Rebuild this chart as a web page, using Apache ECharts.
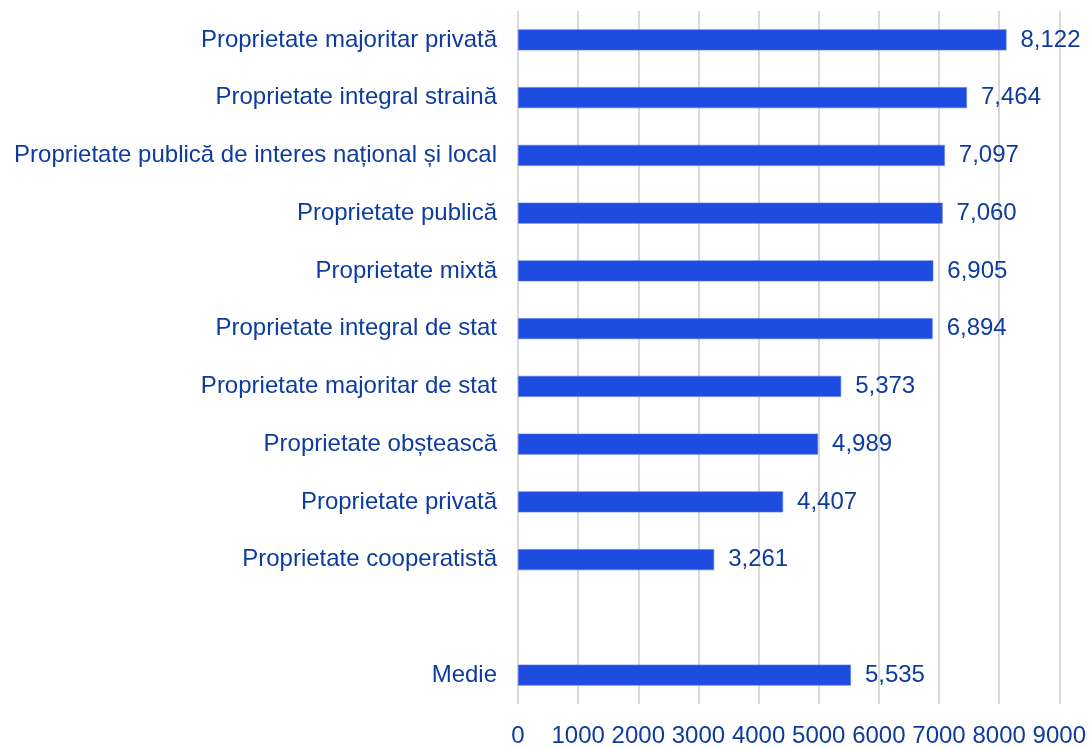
<!DOCTYPE html>
<html>
<head>
<meta charset="utf-8">
<script src="https://cdn.jsdelivr.net/npm/echarts@6/dist/echarts.min.js"></script>
<style>
  html, body { margin: 0; padding: 0; background: #ffffff; }
  #chart { width: 1089px; height: 748px; }
</style>
</head>
<body>
<div id="chart"></div>
<script>
// Ownership types (top to bottom); the blank entry leaves a gap before the average
const categories = [
  'Proprietate majoritar privată',
  'Proprietate integral straină',
  'Proprietate publică de interes național și local',
  'Proprietate publică',
  'Proprietate mixtă',
  'Proprietate integral de stat',
  'Proprietate majoritar de stat',
  'Proprietate obștească',
  'Proprietate privată',
  'Proprietate cooperatistă',
  '',
  'Medie'
];
const values = [8122, 7464, 7097, 7060, 6905, 6894, 5373, 4989, 4407, 3261, null, 5535];
const xTicks = [0, 1000, 2000, 3000, 4000, 5000, 6000, 7000, 8000, 9000];

const textColor = '#0d3c9e';
const fontFamily = '"Liberation Sans", Arial, sans-serif';

const chart = echarts.init(document.getElementById('chart'));
chart.setOption({
  animation: false,
  grid: { left: 518, right: 28, top: 11, bottom: 38, containLabel: false },
  xAxis: {
    type: 'value',
    min: xTicks[0],
    max: xTicks[xTicks.length - 1],
    interval: 1000,
    axisLine: { show: false },
    axisTick: { show: false },
    splitLine: { show: true, lineStyle: { color: '#d9d9d9', width: 2 } },
    axisLabel: {
      color: textColor, fontSize: 24, fontFamily: fontFamily, margin: 20,
      formatter: v => String(v)
    }
  },
  yAxis: {
    type: 'category',
    inverse: true,
    data: categories,
    axisLine: { show: false },
    axisTick: { show: false },
    axisLabel: { color: textColor, fontSize: 24, fontFamily: fontFamily, margin: 21 }
  },
  series: [{
    type: 'bar',
    data: values,
    barWidth: 21,
    itemStyle: { color: '#1f4ce0', borderColor: '#5a7be8', borderWidth: 0.6 },
    label: {
      show: true,
      position: 'right',
      distance: 14,
      color: textColor,
      fontSize: 24,
      fontFamily: fontFamily,
      formatter: p => p.value == null ? '' : p.value.toLocaleString('en-US')
    }
  }]
});
</script>
</body>
</html>
